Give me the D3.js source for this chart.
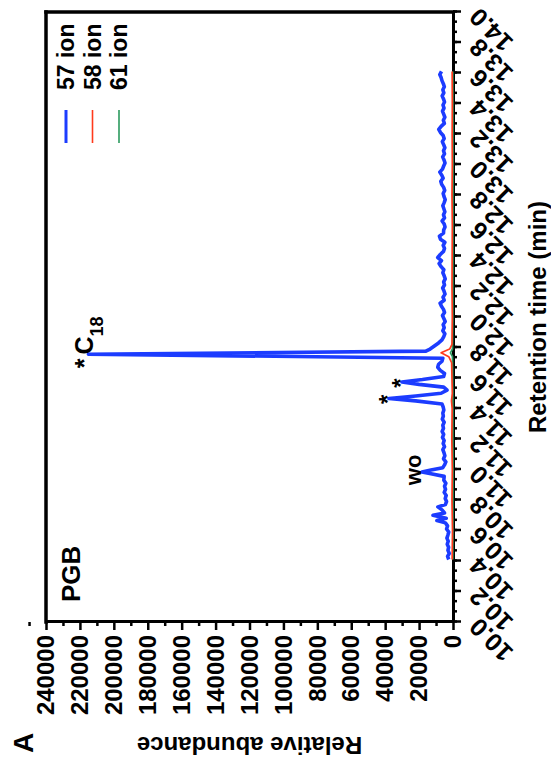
<!DOCTYPE html>
<html>
<head>
<meta charset="utf-8">
<script src="https://cdn.jsdelivr.net/npm/d3@7"></script>
<style>
  body { margin: 0; background: #fff; }
  svg text { font-family: "Liberation Sans", Arial, sans-serif; font-weight: bold; }
</style>
</head>
<body>
<div id="chart"></div>
<script>
// Retention time (min) ticks and abundance ticks
const timeTicks = [10.0, 10.2, 10.4, 10.6, 10.8, 11.0, 11.2, 11.4, 11.6, 11.8, 12.0, 12.2, 12.4, 12.6, 12.8, 13.0, 13.2, 13.4, 13.6, 13.8, 14.0]
const abundTicks = [0, 20000, 40000, 60000, 80000, 100000, 120000, 140000, 160000, 180000, 200000, 220000, 240000]

const seriesNames = ["57 ion", "58 ion", "61 ion"]
const seriesColors = ["#1c3cff", "#ff3a1c", "#2b9a5e"]

// [retention time, relative abundance]
const ion57 = [
    [10.41, 2500], [10.43, 3200], [10.45, 2200], [10.47, 3000], [10.49, 2600], [10.51, 3400], [10.53, 2800],
    [10.55, 3600], [10.57, 3000], [10.59, 2500], [10.61, 3800], [10.63, 3200], [10.65, 4500], [10.665, 9500],
    [10.68, 4000], [10.70, 11800], [10.715, 5000], [10.735, 6500], [10.755, 8900], [10.77, 4500], [10.79, 3800],
    [10.81, 4600], [10.83, 4000], [10.85, 5200], [10.87, 4400], [10.89, 5000], [10.91, 4200], [10.93, 5400],
    [10.955, 5200], [10.972, 13000], [10.984, 18300], [10.996, 13000], [11.012, 6000], [11.03, 5000], [11.05, 4200],
    [11.07, 5600], [11.09, 4800], [11.11, 5300], [11.13, 6000], [11.15, 5000], [11.17, 5800], [11.19, 5200],
    [11.21, 6200], [11.23, 5500], [11.25, 6400], [11.27, 5600], [11.29, 6000], [11.31, 5200], [11.33, 6300],
    [11.35, 5700], [11.37, 6000], [11.39, 5400], [11.41, 5800], [11.43, 6500], [11.45, 22000], [11.466, 37800],
    [11.482, 22000], [11.50, 7000], [11.52, 3500], [11.54, 5500], [11.558, 20000], [11.574, 30100], [11.59, 18000],
    [11.61, 5500], [11.63, 5000], [11.65, 7500], [11.67, 9000], [11.69, 8500], [11.71, 6500], [11.73, 6000],
    [11.756, 215000], [11.776, 16000], [11.79, 13500], [11.81, 11000], [11.83, 8500], [11.85, 6500],
    [11.87, 5500], [11.89, 4800], [11.91, 6000], [11.93, 5200], [11.95, 5800], [11.97, 4600], [11.99, 5400],
    [12.01, 6200], [12.03, 5000], [12.05, 5600], [12.07, 6800], [12.09, 7600], [12.11, 5200], [12.13, 5900],
    [12.15, 4700], [12.17, 5300], [12.19, 6100], [12.21, 5000], [12.23, 5500], [12.25, 4600], [12.27, 5200],
    [12.29, 6000], [12.31, 5400], [12.33, 7000], [12.35, 8200], [12.37, 6800], [12.39, 9000], [12.41, 7500],
    [12.43, 5600], [12.45, 5000], [12.47, 5800], [12.49, 4800], [12.51, 7400], [12.53, 8000], [12.55, 5600],
    [12.57, 5500], [12.59, 4700], [12.61, 5200], [12.63, 6400], [12.65, 5000], [12.67, 5600], [12.69, 4800],
    [12.71, 5400], [12.73, 6000], [12.75, 5200], [12.77, 4600], [12.79, 5300], [12.81, 5800], [12.83, 4900],
    [12.85, 5500], [12.87, 6700], [12.89, 7200], [12.91, 5800], [12.93, 6600], [12.95, 7800], [12.97, 6200],
    [12.99, 5500], [13.01, 4700], [13.03, 5300], [13.05, 6100], [13.07, 5000], [13.09, 5600], [13.11, 4800],
    [13.13, 5500], [13.15, 6300], [13.17, 5200], [13.19, 5800], [13.21, 7400], [13.23, 8400], [13.25, 7000],
    [13.27, 5100], [13.29, 5700], [13.31, 4800], [13.33, 5500], [13.35, 6200], [13.37, 5300], [13.39, 5900],
    [13.41, 5000], [13.43, 5600], [13.45, 6400], [13.47, 5400], [13.49, 6000], [13.51, 5100], [13.53, 5700],
    [13.55, 6500], [13.57, 7000], [13.59, 7800], [13.61, 6800]
]
const ion58 = [
    [10.41, 500], [10.6, 300], [10.8, 600], [11.0, 400], [11.2, 700], [11.4, 500], [11.45, 900], [11.5, 400],
    [11.6, 600], [11.7, 800], [11.74, 2500], [11.765, 7000], [11.79, 2000], [11.82, 600], [12.0, 400],
    [12.2, 600], [12.4, 500], [12.6, 400], [12.8, 600], [13.0, 400], [13.2, 500], [13.4, 400], [13.61, 500]
]
const ion61 = [
    [10.41, 100], [11.0, 0], [11.5, 100], [11.74, 300], [11.765, 1500], [11.79, 300], [12.0, 100],
    [13.0, 0], [13.61, 100]
]

// Labelled peaks: [time, abundance]
const starPeaks = [[11.466, 37800], [11.574, 30100]]
const woPeak = [10.984, 18300]
const c18Peak = [11.756, 215000]

// The whole figure is drawn upright, then turned a quarter turn counter-clockwise
const W = 761, H = 551
const margin = { top: 46, right: 12, bottom: 98, left: 139 },
    width = W - margin.left - margin.right,
    height = H - margin.top - margin.bottom

const svg = d3.select("#chart")
    .append("svg")
    .attr("width", H)
    .attr("height", W)

const root = svg.append("g")
    .attr("transform", `translate(0, ${W}) rotate(-90)`)

const g = root.append("g")
    .attr("transform", `translate(${margin.left},${margin.top})`)

const xScale = d3.scaleLinear().domain([10, 14]).range([0, width])
const yScale = d3.scaleLinear().domain([0, 240000]).range([height, 0])

// Minor ticks
const xMinor = d3.range(0, 61).map(i => 10 + i * 0.2 / 3)
g.append("g")
    .attr("transform", `translate(0, ${height})`)
    .call(d3.axisBottom(xScale).tickValues(xMinor).tickSize(4).tickFormat(""))
    .call(a => a.select(".domain").remove())
    .call(a => a.selectAll("line").attr("stroke-width", 2.5))

const yMinor = d3.range(0, 24).map(i => 10000 + i * 20000)
g.append("g")
    .call(d3.axisLeft(yScale).tickValues(yMinor).tickSize(4).tickFormat(""))
    .call(a => a.select(".domain").remove())
    .call(a => a.selectAll("line").attr("stroke-width", 2.5))

// Major axes
const xAxis = g.append("g")
    .attr("transform", `translate(0, ${height})`)
    .call(d3.axisBottom(xScale).tickValues(timeTicks).tickSize(8).tickSizeOuter(0).tickFormat(d3.format(".1f")))

xAxis.select(".domain").attr("stroke-width", 3)
xAxis.selectAll("line").attr("stroke-width", 2.5)
xAxis.selectAll("text")
    .attr("font-size", 25)
    .attr("fill", "black")
    .attr("text-anchor", "end")
    .attr("x", 0).attr("y", 0).attr("dy", 0)
    .attr("transform", "translate(5, 27) rotate(-45)")

const yAxis = g.append("g")
    .call(d3.axisLeft(yScale).tickValues(abundTicks).tickSize(8).tickSizeOuter(0).tickFormat(d3.format("d")))

yAxis.select(".domain").attr("stroke-width", 3)
yAxis.selectAll("line").attr("stroke-width", 2.5)
yAxis.selectAll("text")
    .attr("font-size", 24)
    .attr("fill", "black")
    .attr("x", -13)

// Axis titles
g.append("text")
    .attr("text-anchor", "middle")
    .attr("x", width / 2)
    .attr("y", height + 93)
    .attr("font-size", 24)
    .text("Retention time (min)")

g.append("text")
    .attr("text-anchor", "middle")
    .attr("transform", `translate(${24 - margin.left}, ${height / 2}) rotate(-90)`)
    .attr("font-size", 24)
    .text("Relative abundance")

root.append("text")
    .attr("x", 8)
    .attr("y", 33)
    .attr("font-size", 28)
    .text("A")

// Lines
const line = d3.line()
    .x(d => xScale(d[0]))
    .y(d => yScale(d[1]))

const allSeries = [ion57, ion58, ion61]
const widths = [3.6, 1.7, 1.7]
for (const i of [2, 1, 0]) {
    g.append("path")
        .datum(allSeries[i])
        .attr("fill", "none")
        .attr("stroke", seriesColors[i])
        .attr("stroke-width", widths[i])
        .attr("stroke-linejoin", "round")
        .attr("d", line)
}

// Frame: top edge and right edge of the plot box
g.append("line")
    .attr("x1", xScale(10)).attr("x2", xScale(14))
    .attr("y1", yScale(240000)).attr("y2", yScale(240000))
    .attr("stroke", "black")
    .attr("stroke-width", 3.5)
    .attr("stroke-linecap", "square")

g.append("line")
    .attr("x1", xScale(14)).attr("x2", xScale(14))
    .attr("y1", yScale(240000)).attr("y2", yScale(0))
    .attr("stroke", "black")
    .attr("stroke-width", 3.5)
    .attr("stroke-linecap", "square")

// Peak annotations
g.append("text")
    .attr("x", 20)
    .attr("y", 34)
    .attr("font-size", 26)
    .text("PGB")

g.selectAll(".star")
    .data(starPeaks)
    .enter()
    .append("text")
    .attr("class", "star")
    .attr("text-anchor", "middle")
    .attr("x", d => xScale(d[0]) - 1)
    .attr("y", d => yScale(d[1]) + 7)
    .attr("font-size", 24)
    .text("*")

g.append("text")
    .attr("text-anchor", "middle")
    .attr("x", xScale(woPeak[0]) + 2)
    .attr("y", yScale(woPeak[1]) - 1)
    .attr("font-size", 22)
    .text("wo")

const c18 = g.append("text")
    .attr("x", xScale(c18Peak[0]) - 14)
    .attr("y", yScale(c18Peak[1]) + 5)
    .attr("font-size", 25)
c18.append("tspan").text("*")
c18.append("tspan").attr("dx", 4).text("C")
c18.append("tspan").attr("font-size", 18).attr("dy", 10).text("18")

// Legend
const legend = g.selectAll(".legend")
    .data(seriesNames)
    .enter()
    .append("g")
    .attr("class", "legend")
    .attr("transform", (d, i) => `translate(${width - 131}, ${20 + i * 26.5})`)

legend.append("line")
    .attr("x1", 0).attr("x2", 33)
    .attr("stroke", (d, i) => seriesColors[i])
    .attr("stroke-width", (d, i) => i == 0 ? 3 : 1.6)

legend.append("text")
    .attr("x", 53)
    .attr("dy", "0.35em")
    .attr("font-size", 23)
    .text(d => d)
</script>
</body>
</html>
